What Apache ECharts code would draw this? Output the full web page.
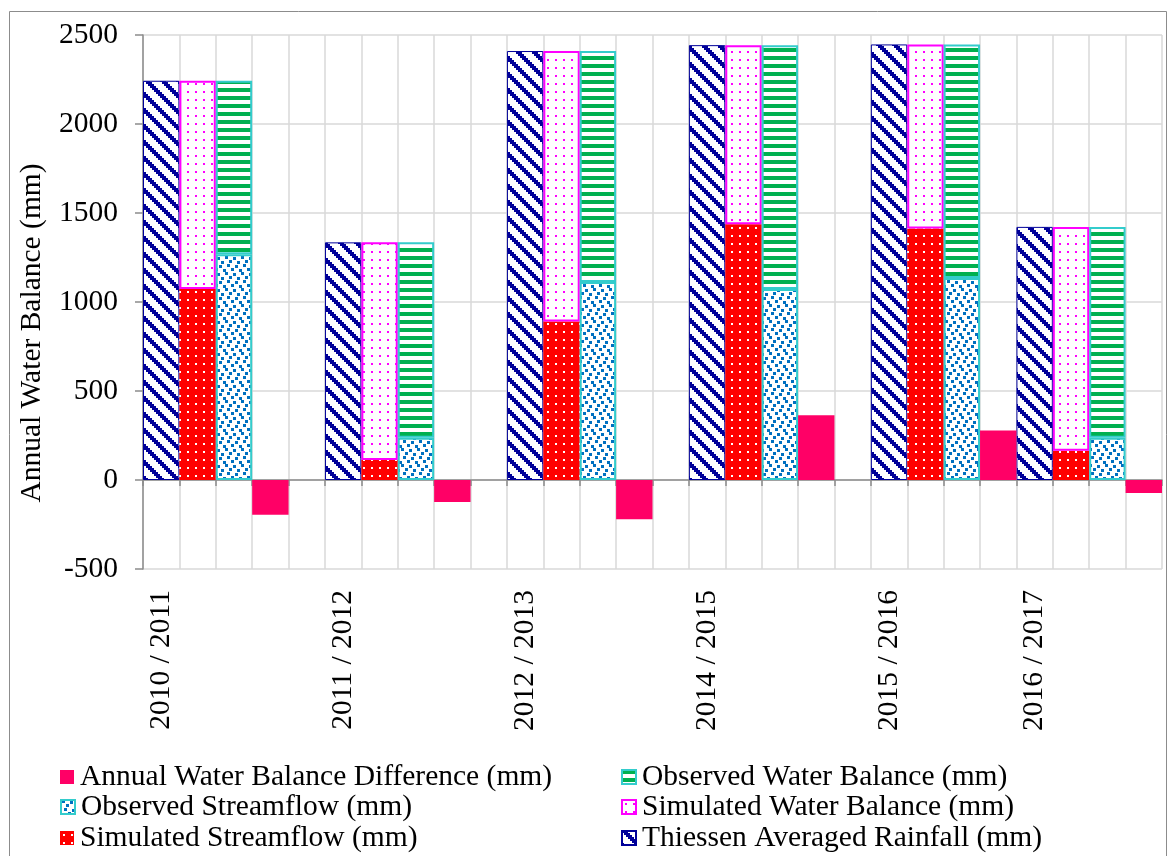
<!DOCTYPE html>
<html>
<head>
<meta charset="utf-8">
<script src="https://cdn.jsdelivr.net/npm/echarts@6/dist/echarts.min.js"></script>
<style>
  html, body { margin: 0; padding: 0; background: #ffffff; }
  #chart { width: 1168px; height: 856px; }
</style>
</head>
<body>
<div id="chart"></div>
<script>
// Category slots along the x axis; only the first slot of each season carries a label
const categories = [
  '2010 / 2011', '', '', '', '',
  '2011 / 2012', '', '', '', '',
  '2012 / 2013', '', '', '', '',
  '2014 / 2015', '', '', '', '',
  '2015 / 2016', '', '', '',
  '2016 / 2017', '', '', ''
];

// Annual values per season (mm)
const rainfall        = [2243, 1335, 2410, 2443, 2447, 1422];
const simStreamflow   = [1073,  113,  891, 1437, 1413,  164];
const simWaterBalance = [1170, 1222, 1519, 1006, 1034, 1258];
const obsStreamflow   = [1268,  237, 1112, 1073, 1135,  237];
const obsWaterBalance = [ 975, 1098, 1298, 1370, 1312, 1185];
const wbDifference    = [-195, -124, -221,  364,  278,  -73];

const yTicks = { min: -500, max: 2500, interval: 500 };

const NAMES = {
  diff: 'Annual Water Balance Difference (mm)',
  obsWB: 'Observed Water Balance (mm)',
  obsSF: 'Observed Streamflow (mm)',
  simWB: 'Simulated Water Balance (mm)',
  simSF: 'Simulated Streamflow (mm)',
  rain: 'Thiessen Averaged Rainfall (mm)'
};

const FONT = '"Liberation Serif", "Times New Roman", serif';
const FS = 29.5;

// first slot index of every season
const seasonStart = categories.map((c, i) => (c ? i : -1)).filter(i => i >= 0);

// spread one value per season into the slot at the given offset inside that season
function toSlots(values, offset) {
  const out = categories.map(() => '-');
  seasonStart.forEach((s, i) => { out[s + offset] = values[i]; });
  return out;
}

// small repeating fill tiles
function makeTile(w, h, bg, fg, rects) {
  const c = document.createElement('canvas');
  c.width = w; c.height = h;
  const g = c.getContext('2d');
  g.fillStyle = bg; g.fillRect(0, 0, w, h);
  g.fillStyle = fg;
  rects.forEach(r => g.fillRect(r[0], r[1], r[2], r[3]));
  return { image: c, repeat: 'repeat' };
}

// wide downward diagonal
const diagRects = [];
for (let by = 0; by < 8; by++) {
  for (let bx = 0; bx < 8; bx++) {
    if (((bx - by) % 8 + 8) % 8 < 3) diagRects.push([bx * 2, by * 2, 2, 2]);
  }
}
const rainFill = makeTile(16, 16, '#ffffff', '#000099', diagRects);
const simWBFill = makeTile(8, 8, '#ffffff', '#ff00ff', [[3, 3, 2, 2]]);
const simSFFill = makeTile(8, 8, '#ff0000', '#ffffff', [[3, 3, 2, 2]]);
const obsWBFill = makeTile(8, 8, '#ffffff', '#00b050', [[0, 0, 8, 4]]);
const obsSFFill = makeTile(16, 16, '#ffffff', '#0070c0', [
  [1, 0, 3, 3], [9, 1, 3, 3],
  [5, 4, 3, 3], [13, 5, 3, 3],
  [3, 8, 3, 3], [11, 9, 3, 3],
  [7, 12, 3, 3], [15, 13, 1, 3], [0, 13, 2, 3]
]);

const barBase = {
  type: 'bar',
  barWidth: '100%',
  barGap: '-100%',
  barCategoryGap: 0,
  xAxisIndex: 0,
  yAxisIndex: 0
};

// one legend entry per block, laid out in two columns
function legendItem(name, left, centerY) {
  return {
    left: left, top: centerY - 15, padding: 0,
    icon: 'rect',
    itemWidth: 14, itemHeight: 14, itemGap: 0,
    textStyle: { fontFamily: FONT, fontSize: FS, color: '#000000', lineHeight: 30, padding: [0, 0, 0, 1] },
    data: [name]
  };
}

const chart = echarts.init(document.getElementById('chart'), null, { renderer: 'canvas' });

chart.setOption({
  animation: false,
  backgroundColor: '#ffffff',
  textStyle: { fontFamily: FONT, color: '#000000' },
  graphic: [{
    type: 'rect',
    shape: { x: 9.5, y: 11.5, width: 1157, height: 900 },
    style: { fill: 'none', stroke: '#8c8c8c', lineWidth: 1 },
    silent: true,
    z: -10
  }, {
    type: 'text',
    x: 32, y: 333,
    rotation: Math.PI / 2,
    style: {
      text: 'Annual Water Balance (mm)',
      font: FS + 'px ' + FONT,
      fill: '#000000',
      align: 'center',
      verticalAlign: 'middle'
    },
    silent: true
  }],
  grid: { left: 143, right: 6, top: 35, height: 534, containLabel: false },
  xAxis: [{
    type: 'category',
    data: categories,
    position: 'bottom',
    axisLine: { onZero: true, lineStyle: { color: '#8c8c8c', width: 1.5 } },
    axisTick: { show: true, interval: 0, length: 6, lineStyle: { color: '#8c8c8c', width: 1.5 } },
    axisLabel: { show: false },
    splitLine: { show: true, interval: 0, lineStyle: { color: '#d9d9d9', width: 1.5 } }
  }, {
    type: 'category',
    data: categories,
    position: 'bottom',
    axisLine: { show: false, onZero: false },
    axisTick: { show: false },
    splitLine: { show: false },
    axisLabel: {
      interval: 0, rotate: 90, margin: 21,
      fontFamily: FONT, fontSize: FS, color: '#000000'
    }
  }],
  yAxis: {
    type: 'value',
    min: yTicks.min, max: yTicks.max, interval: yTicks.interval,
    axisLine: { show: true, lineStyle: { color: '#8c8c8c', width: 1.5 } },
    axisTick: { show: true, length: 8, lineStyle: { color: '#8c8c8c', width: 1.5 } },
    axisLabel: {
      margin: 25, fontFamily: FONT, fontSize: FS, color: '#000000',
      formatter: v => String(v)
    },
    splitLine: { show: true, lineStyle: { color: '#d9d9d9', width: 1.5 } }
  },
  legend: [
    legendItem(NAMES.diff, 60, 777),
    legendItem(NAMES.obsSF, 60, 807),
    legendItem(NAMES.simSF, 60, 838),
    legendItem(NAMES.obsWB, 621, 777),
    legendItem(NAMES.simWB, 621, 807),
    legendItem(NAMES.rain, 621, 838)
  ],
  series: [
    Object.assign({}, barBase, {
      name: NAMES.rain,
      data: toSlots(rainfall, 0),
      itemStyle: { color: rainFill, borderColor: '#000099', borderWidth: 1 }
    }),
    Object.assign({}, barBase, {
      name: NAMES.simSF,
      stack: 'sim',
      data: toSlots(simStreamflow, 1),
      itemStyle: { color: simSFFill, borderWidth: 0 }
    }),
    Object.assign({}, barBase, {
      name: NAMES.simWB,
      stack: 'sim',
      data: toSlots(simWaterBalance, 1),
      itemStyle: { color: simWBFill, borderColor: '#ff00ff', borderWidth: 2 }
    }),
    Object.assign({}, barBase, {
      name: NAMES.obsSF,
      stack: 'obs',
      data: toSlots(obsStreamflow, 2),
      itemStyle: { color: obsSFFill, borderColor: '#33cccc', borderWidth: 2 }
    }),
    Object.assign({}, barBase, {
      name: NAMES.obsWB,
      stack: 'obs',
      data: toSlots(obsWaterBalance, 2),
      itemStyle: { color: obsWBFill, borderColor: '#33cccc', borderWidth: 2 }
    }),
    Object.assign({}, barBase, {
      name: NAMES.diff,
      data: toSlots(wbDifference, 3),
      itemStyle: { color: '#ff0066', borderWidth: 0 }
    })
  ]
});
</script>
</body>
</html>
